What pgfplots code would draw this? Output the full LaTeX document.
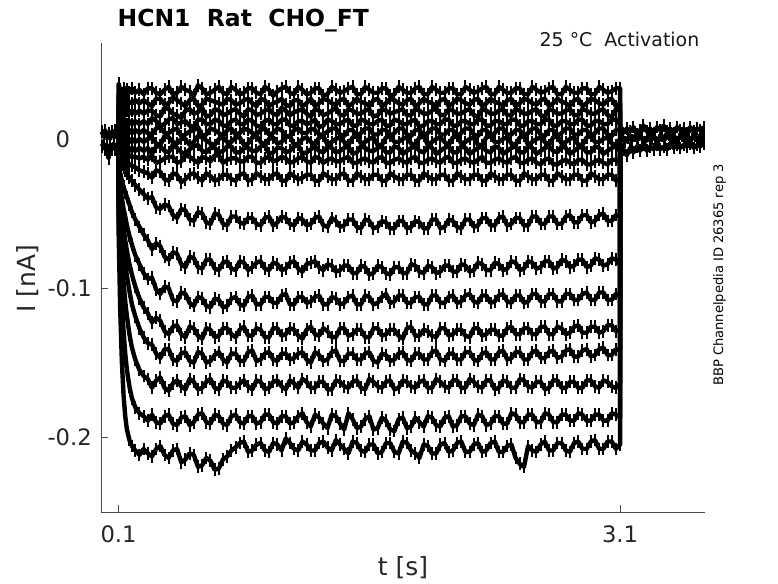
\documentclass[border=0pt]{standalone}
\usepackage{fontspec}
\setmainfont{DejaVu Sans}
\usepackage{pgfplots}
\usepackage{pgfplotstable}
\pgfplotsset{compat=1.18}

\pgfplotstableread{
t a b c d e f g h i j k l m n o p q
0.100 0.000 0.000 0.000 0.000 0.000 0.000 0.000 0.000 0.000 0.000 0.000 0.000 0.000 0.000 0.000 0.000 0.000
0.100 0.037 0.030 0.022 0.014 0.007 0.001 -0.005 -0.006 -0.008 -0.012 -0.018 -0.025 -0.030 -0.035 -0.040 -0.050 -0.060
0.110 0.033 0.026 0.019 0.012 0.005 -0.001 -0.006 -0.007 -0.010 -0.015 -0.023 -0.033 -0.041 -0.050 -0.063 -0.084 -0.115
0.120 0.030 0.024 0.017 0.010 0.006 -0.002 -0.008 -0.008 -0.011 -0.017 -0.028 -0.040 -0.051 -0.063 -0.081 -0.110 -0.150
0.130 0.034 0.026 0.019 0.012 0.004 0.000 -0.006 -0.010 -0.013 -0.019 -0.032 -0.047 -0.060 -0.074 -0.096 -0.129 -0.172
0.140 0.031 0.024 0.017 0.011 0.006 -0.002 -0.008 -0.009 -0.014 -0.021 -0.036 -0.052 -0.068 -0.083 -0.109 -0.144 -0.186
0.150 0.033 0.026 0.019 0.010 0.004 0.000 -0.006 -0.011 -0.015 -0.023 -0.039 -0.058 -0.075 -0.092 -0.119 -0.155 -0.195
0.165 0.031 0.025 0.017 0.012 0.006 -0.002 -0.008 -0.011 -0.017 -0.026 -0.044 -0.065 -0.084 -0.102 -0.131 -0.166 -0.202
0.180 0.034 0.024 0.019 0.010 0.004 0.000 -0.006 -0.012 -0.018 -0.028 -0.049 -0.071 -0.091 -0.111 -0.140 -0.174 -0.206
0.200 0.031 0.026 0.017 0.012 0.006 -0.002 -0.008 -0.012 -0.019 -0.031 -0.054 -0.078 -0.099 -0.119 -0.148 -0.180 -0.209
0.225 0.033 0.024 0.019 0.010 0.004 0.000 -0.006 -0.013 -0.021 -0.034 -0.059 -0.084 -0.107 -0.127 -0.155 -0.184 -0.212
0.250 0.030 0.026 0.017 0.012 0.006 -0.002 -0.008 -0.012 -0.022 -0.037 -0.064 -0.090 -0.113 -0.133 -0.159 -0.186 -0.208
0.275 0.034 0.024 0.019 0.010 0.004 0.000 -0.006 -0.014 -0.023 -0.040 -0.068 -0.094 -0.117 -0.137 -0.161 -0.189 -0.211
0.300 0.034 0.022 0.019 0.014 0.003 0.001 -0.010 -0.011 -0.026 -0.039 -0.074 -0.093 -0.123 -0.138 -0.167 -0.185 -0.213
0.325 0.031 0.027 0.016 0.012 0.007 -0.003 -0.005 -0.016 -0.021 -0.046 -0.070 -0.101 -0.120 -0.144 -0.162 -0.190 -0.208
0.350 0.030 0.027 0.015 0.009 0.008 -0.004 -0.005 -0.015 -0.022 -0.047 -0.072 -0.104 -0.122 -0.147 -0.160 -0.191 -0.206
0.375 0.033 0.023 0.021 0.010 0.004 0.002 -0.008 -0.013 -0.027 -0.044 -0.079 -0.099 -0.129 -0.141 -0.167 -0.186 -0.212
0.400 0.035 0.024 0.020 0.013 0.004 0.001 -0.009 -0.012 -0.028 -0.045 -0.081 -0.100 -0.131 -0.141 -0.169 -0.185 -0.214
0.425 0.030 0.028 0.017 0.014 0.006 -0.002 -0.004 -0.012 -0.023 -0.051 -0.076 -0.108 -0.126 -0.148 -0.164 -0.191 -0.209
0.450 0.031 0.026 0.016 0.010 0.007 -0.003 -0.006 -0.016 -0.024 -0.053 -0.077 -0.109 -0.125 -0.149 -0.162 -0.192 -0.208
0.475 0.035 0.024 0.014 0.011 0.002 0.000 -0.009 -0.015 -0.029 -0.047 -0.084 -0.103 -0.131 -0.144 -0.166 -0.187 -0.217
0.500 0.033 0.022 0.019 0.012 0.003 0.000 -0.010 -0.011 -0.027 -0.048 -0.086 -0.104 -0.133 -0.143 -0.168 -0.186 -0.215
0.525 0.032 0.026 0.020 0.009 0.005 -0.004 -0.007 -0.012 -0.024 -0.054 -0.079 -0.110 -0.126 -0.149 -0.161 -0.192 -0.211
0.550 0.029 0.027 0.017 0.008 0.006 -0.002 -0.005 -0.014 -0.023 -0.055 -0.080 -0.112 -0.127 -0.150 -0.163 -0.190 -0.212
0.575 0.036 0.022 0.018 0.013 0.008 0.002 -0.004 -0.016 -0.026 -0.049 -0.086 -0.106 -0.132 -0.143 -0.168 -0.185 -0.220
0.600 0.034 0.023 0.021 0.013 0.002 0.001 -0.008 -0.012 -0.028 -0.050 -0.087 -0.107 -0.134 -0.144 -0.167 -0.184 -0.219
0.625 0.030 0.027 0.015 0.010 0.003 -0.001 -0.009 -0.013 -0.023 -0.056 -0.081 -0.112 -0.127 -0.150 -0.163 -0.190 -0.214
0.650 0.031 0.026 0.016 0.010 0.007 -0.003 -0.006 -0.015 -0.025 -0.057 -0.081 -0.113 -0.128 -0.149 -0.161 -0.191 -0.216
0.675 0.033 0.025 0.020 0.013 0.006 -0.004 -0.006 -0.011 -0.028 -0.050 -0.087 -0.107 -0.133 -0.145 -0.167 -0.185 -0.222
0.700 0.035 0.024 0.019 0.012 0.004 0.000 -0.009 -0.011 -0.027 -0.051 -0.088 -0.108 -0.132 -0.143 -0.168 -0.186 -0.221
0.725 0.031 0.023 0.016 0.009 0.002 0.001 -0.008 -0.016 -0.024 -0.057 -0.083 -0.113 -0.127 -0.148 -0.162 -0.191 -0.215
0.750 0.030 0.027 0.017 0.009 0.006 -0.002 -0.005 -0.014 -0.024 -0.058 -0.082 -0.112 -0.127 -0.150 -0.163 -0.192 -0.213
0.775 0.035 0.026 0.019 0.012 0.007 -0.002 -0.005 -0.013 -0.027 -0.052 -0.087 -0.107 -0.131 -0.144 -0.167 -0.186 -0.209
0.800 0.033 0.023 0.020 0.013 0.003 0.001 -0.009 -0.013 -0.028 -0.052 -0.088 -0.106 -0.133 -0.144 -0.167 -0.185 -0.207
0.825 0.030 0.024 0.017 0.010 0.004 0.001 -0.009 -0.015 -0.024 -0.056 -0.082 -0.111 -0.128 -0.149 -0.164 -0.190 -0.204
0.850 0.031 0.026 0.015 0.010 0.007 -0.004 -0.006 -0.015 -0.023 -0.057 -0.083 -0.112 -0.126 -0.149 -0.162 -0.191 -0.203
0.875 0.034 0.027 0.020 0.013 0.006 -0.003 -0.006 -0.012 -0.028 -0.053 -0.088 -0.106 -0.132 -0.143 -0.166 -0.186 -0.210
0.900 0.034 0.024 0.019 0.012 0.004 0.001 -0.008 -0.012 -0.027 -0.053 -0.086 -0.105 -0.132 -0.142 -0.168 -0.186 -0.209
0.925 0.031 0.022 0.016 0.009 0.003 0.002 -0.008 -0.016 -0.023 -0.057 -0.083 -0.111 -0.127 -0.149 -0.162 -0.191 -0.205
0.950 0.030 0.027 0.017 0.008 0.006 -0.002 -0.005 -0.016 -0.025 -0.058 -0.082 -0.111 -0.128 -0.148 -0.163 -0.190 -0.204
0.975 0.035 0.026 0.019 0.012 0.007 -0.004 -0.004 -0.013 -0.027 -0.053 -0.087 -0.106 -0.133 -0.144 -0.168 -0.185 -0.209
1.000 0.033 0.022 0.020 0.013 0.003 0.000 -0.010 -0.012 -0.027 -0.052 -0.088 -0.106 -0.133 -0.143 -0.167 -0.185 -0.210
1.025 0.029 0.024 0.017 0.010 0.004 0.001 -0.009 -0.015 -0.024 -0.058 -0.083 -0.110 -0.127 -0.148 -0.163 -0.190 -0.204
1.050 0.032 0.025 0.016 0.010 0.007 -0.003 -0.006 -0.014 -0.023 -0.056 -0.084 -0.110 -0.127 -0.149 -0.162 -0.191 -0.205
1.075 0.034 0.027 0.021 0.013 0.006 -0.002 -0.006 -0.012 -0.028 -0.052 -0.088 -0.105 -0.132 -0.144 -0.166 -0.186 -0.209
1.100 0.035 0.023 0.019 0.013 0.002 0.001 -0.009 -0.013 -0.028 -0.053 -0.087 -0.104 -0.131 -0.144 -0.168 -0.186 -0.201
1.125 0.031 0.022 0.016 0.009 0.002 0.002 -0.008 -0.016 -0.023 -0.057 -0.083 -0.111 -0.127 -0.148 -0.162 -0.191 -0.204
1.150 0.030 0.026 0.018 0.009 0.006 -0.004 -0.005 -0.015 -0.025 -0.058 -0.082 -0.111 -0.128 -0.147 -0.164 -0.190 -0.208
1.175 0.035 0.026 0.019 0.012 0.007 -0.003 -0.004 -0.013 -0.027 -0.053 -0.087 -0.106 -0.132 -0.144 -0.167 -0.186 -0.209
1.200 0.033 0.022 0.020 0.012 0.004 0.000 -0.010 -0.012 -0.026 -0.054 -0.089 -0.106 -0.134 -0.143 -0.161 -0.184 -0.203
1.225 0.030 0.024 0.017 0.010 0.004 0.001 -0.009 -0.015 -0.024 -0.058 -0.084 -0.110 -0.128 -0.148 -0.163 -0.190 -0.205
1.250 0.031 0.027 0.015 0.011 0.007 -0.002 -0.007 -0.016 -0.024 -0.057 -0.083 -0.109 -0.126 -0.150 -0.167 -0.193 -0.209
1.275 0.034 0.022 0.020 0.013 0.006 -0.004 -0.005 -0.012 -0.028 -0.053 -0.082 -0.106 -0.131 -0.143 -0.167 -0.185 -0.209
1.300 0.034 0.024 0.019 0.008 0.003 0.001 -0.008 -0.013 -0.028 -0.052 -0.086 -0.105 -0.132 -0.145 -0.163 -0.187 -0.204
1.325 0.029 0.027 0.016 0.009 0.003 0.002 -0.009 -0.016 -0.023 -0.058 -0.088 -0.111 -0.127 -0.149 -0.163 -0.191 -0.203
1.350 0.030 0.026 0.017 0.013 0.005 -0.004 -0.005 -0.014 -0.025 -0.059 -0.084 -0.111 -0.129 -0.148 -0.168 -0.194 -0.207
1.375 0.035 0.024 0.019 0.012 0.007 -0.002 -0.006 -0.013 -0.027 -0.053 -0.085 -0.106 -0.133 -0.143 -0.168 -0.185 -0.209
1.400 0.033 0.023 0.021 0.010 0.007 0.000 -0.009 -0.015 -0.027 -0.055 -0.089 -0.107 -0.133 -0.142 -0.162 -0.186 -0.202
1.425 0.031 0.026 0.016 0.010 0.003 0.001 -0.008 -0.015 -0.024 -0.059 -0.088 -0.111 -0.127 -0.149 -0.163 -0.191 -0.205
1.450 0.032 0.027 0.016 0.012 0.002 -0.002 -0.006 -0.013 -0.023 -0.058 -0.085 -0.110 -0.127 -0.149 -0.166 -0.195 -0.208
1.475 0.034 0.022 0.020 0.013 0.006 -0.004 -0.005 -0.012 -0.028 -0.054 -0.085 -0.106 -0.132 -0.144 -0.167 -0.184 -0.211
1.500 0.035 0.024 0.019 0.009 0.006 0.001 -0.010 -0.016 -0.028 -0.054 -0.090 -0.105 -0.131 -0.144 -0.163 -0.188 -0.203
1.525 0.030 0.027 0.017 0.009 0.002 0.002 -0.009 -0.016 -0.023 -0.059 -0.090 -0.111 -0.128 -0.148 -0.162 -0.194 -0.204
1.550 0.030 0.025 0.017 0.013 0.004 -0.003 -0.005 -0.014 -0.025 -0.060 -0.085 -0.111 -0.128 -0.148 -0.167 -0.193 -0.209
1.575 0.035 0.024 0.019 0.012 0.007 -0.002 -0.006 -0.013 -0.027 -0.054 -0.086 -0.105 -0.133 -0.144 -0.168 -0.188 -0.210
1.600 0.033 0.022 0.020 0.010 0.007 0.000 -0.008 -0.015 -0.027 -0.055 -0.091 -0.106 -0.133 -0.143 -0.161 -0.186 -0.205
1.625 0.031 0.026 0.015 0.010 0.003 0.001 -0.008 -0.016 -0.024 -0.060 -0.090 -0.111 -0.127 -0.149 -0.163 -0.195 -0.205
1.650 0.031 0.027 0.016 0.012 0.003 -0.004 -0.006 -0.013 -0.024 -0.059 -0.085 -0.110 -0.127 -0.150 -0.166 -0.194 -0.211
1.675 0.034 0.022 0.020 0.013 0.006 -0.004 -0.005 -0.012 -0.028 -0.055 -0.086 -0.106 -0.132 -0.144 -0.167 -0.187 -0.210
1.700 0.034 0.024 0.019 0.009 0.006 0.001 -0.009 -0.016 -0.028 -0.056 -0.090 -0.104 -0.131 -0.145 -0.163 -0.189 -0.204
1.725 0.029 0.027 0.017 0.009 0.002 0.002 -0.009 -0.016 -0.023 -0.060 -0.091 -0.110 -0.128 -0.149 -0.162 -0.195 -0.204
1.750 0.030 0.026 0.018 0.013 0.004 -0.002 -0.005 -0.014 -0.025 -0.060 -0.086 -0.109 -0.128 -0.148 -0.168 -0.196 -0.210
1.775 0.035 0.024 0.019 0.012 0.007 -0.002 -0.006 -0.013 -0.027 -0.055 -0.086 -0.105 -0.132 -0.144 -0.167 -0.188 -0.211
1.800 0.033 0.023 0.020 0.010 0.007 0.000 -0.010 -0.015 -0.027 -0.055 -0.090 -0.105 -0.134 -0.143 -0.162 -0.187 -0.203
1.825 0.031 0.026 0.016 0.010 0.003 0.001 -0.008 -0.016 -0.024 -0.060 -0.090 -0.110 -0.127 -0.148 -0.163 -0.194 -0.204
1.850 0.031 0.027 0.016 0.012 0.002 -0.003 -0.006 -0.013 -0.024 -0.059 -0.084 -0.110 -0.126 -0.149 -0.166 -0.193 -0.209
1.875 0.034 0.022 0.020 0.013 0.006 -0.004 -0.005 -0.012 -0.028 -0.055 -0.085 -0.106 -0.132 -0.144 -0.167 -0.187 -0.211
1.900 0.035 0.024 0.019 0.008 0.006 0.001 -0.008 -0.016 -0.028 -0.056 -0.089 -0.106 -0.132 -0.144 -0.163 -0.190 -0.214
1.925 0.030 0.027 0.017 0.009 0.002 0.002 -0.009 -0.016 -0.023 -0.060 -0.090 -0.111 -0.128 -0.148 -0.162 -0.193 -0.205
1.950 0.030 0.025 0.017 0.012 0.004 -0.004 -0.005 -0.014 -0.025 -0.060 -0.085 -0.111 -0.129 -0.148 -0.167 -0.186 -0.206
1.975 0.035 0.024 0.019 0.012 0.007 -0.002 -0.006 -0.013 -0.027 -0.054 -0.086 -0.105 -0.132 -0.143 -0.167 -0.187 -0.211
2.000 0.033 0.022 0.021 0.010 0.007 0.000 -0.010 -0.015 -0.027 -0.054 -0.090 -0.105 -0.133 -0.142 -0.161 -0.192 -0.211
2.025 0.031 0.026 0.016 0.010 0.003 0.001 -0.008 -0.016 -0.024 -0.060 -0.089 -0.110 -0.127 -0.148 -0.163 -0.193 -0.205
2.050 0.031 0.027 0.016 0.013 0.003 -0.002 -0.006 -0.013 -0.024 -0.059 -0.085 -0.110 -0.127 -0.149 -0.166 -0.187 -0.204
2.075 0.034 0.022 0.020 0.013 0.006 -0.004 -0.005 -0.012 -0.028 -0.054 -0.085 -0.106 -0.132 -0.144 -0.167 -0.186 -0.210
2.100 0.034 0.024 0.019 0.009 0.006 0.001 -0.009 -0.016 -0.028 -0.055 -0.089 -0.105 -0.131 -0.144 -0.162 -0.193 -0.209
2.125 0.030 0.027 0.017 0.009 0.002 0.002 -0.009 -0.016 -0.023 -0.059 -0.089 -0.110 -0.128 -0.148 -0.162 -0.192 -0.204
2.150 0.030 0.026 0.017 0.012 0.004 -0.003 -0.005 -0.014 -0.025 -0.060 -0.084 -0.109 -0.128 -0.148 -0.167 -0.186 -0.203
2.175 0.035 0.024 0.019 0.012 0.007 -0.002 -0.006 -0.013 -0.027 -0.054 -0.085 -0.105 -0.132 -0.143 -0.167 -0.186 -0.210
2.200 0.033 0.023 0.020 0.010 0.007 0.000 -0.010 -0.015 -0.027 -0.054 -0.089 -0.104 -0.133 -0.143 -0.161 -0.191 -0.210
2.225 0.031 0.026 0.016 0.010 0.003 0.001 -0.008 -0.016 -0.024 -0.059 -0.088 -0.109 -0.127 -0.148 -0.163 -0.192 -0.205
2.250 0.032 0.027 0.015 0.013 0.002 -0.004 -0.006 -0.014 -0.024 -0.058 -0.083 -0.110 -0.127 -0.149 -0.166 -0.185 -0.204
2.275 0.034 0.022 0.020 0.013 0.006 -0.004 -0.005 -0.012 -0.028 -0.053 -0.084 -0.105 -0.132 -0.144 -0.167 -0.186 -0.210
2.300 0.035 0.024 0.019 0.009 0.006 0.001 -0.008 -0.016 -0.028 -0.053 -0.088 -0.105 -0.131 -0.143 -0.162 -0.192 -0.209
2.325 0.030 0.027 0.017 0.009 0.002 0.002 -0.009 -0.016 -0.023 -0.058 -0.088 -0.110 -0.128 -0.148 -0.162 -0.191 -0.204
2.350 0.030 0.025 0.017 0.012 0.004 -0.002 -0.005 -0.014 -0.025 -0.058 -0.083 -0.109 -0.128 -0.148 -0.168 -0.186 -0.203
2.375 0.035 0.024 0.019 0.012 0.007 -0.002 -0.006 -0.013 -0.027 -0.053 -0.084 -0.105 -0.132 -0.143 -0.167 -0.186 -0.210
2.400 0.033 0.022 0.020 0.010 0.007 0.000 -0.010 -0.015 -0.027 -0.052 -0.088 -0.104 -0.132 -0.142 -0.162 -0.191 -0.210
2.425 0.031 0.026 0.016 0.010 0.003 0.001 -0.008 -0.016 -0.024 -0.058 -0.087 -0.109 -0.127 -0.148 -0.163 -0.191 -0.206
2.450 0.031 0.027 0.016 0.013 0.003 -0.003 -0.006 -0.013 -0.024 -0.057 -0.082 -0.110 -0.126 -0.147 -0.167 -0.184 -0.205
2.475 0.034 0.022 0.020 0.013 0.006 -0.004 -0.005 -0.012 -0.028 -0.053 -0.083 -0.105 -0.131 -0.143 -0.167 -0.185 -0.214
2.500 0.034 0.024 0.019 0.009 0.006 0.001 -0.009 -0.016 -0.028 -0.053 -0.088 -0.105 -0.131 -0.143 -0.161 -0.190 -0.218
2.525 0.030 0.027 0.017 0.009 0.002 0.002 -0.009 -0.016 -0.023 -0.058 -0.087 -0.110 -0.127 -0.148 -0.162 -0.190 -0.220
2.550 0.030 0.026 0.017 0.012 0.004 -0.004 -0.005 -0.014 -0.025 -0.058 -0.082 -0.109 -0.127 -0.148 -0.166 -0.185 -0.206
2.575 0.035 0.024 0.019 0.012 0.007 -0.002 -0.006 -0.013 -0.027 -0.052 -0.083 -0.104 -0.131 -0.143 -0.167 -0.185 -0.209
2.600 0.033 0.023 0.020 0.010 0.007 0.000 -0.010 -0.016 -0.027 -0.052 -0.087 -0.104 -0.131 -0.142 -0.163 -0.190 -0.210
2.625 0.031 0.026 0.016 0.010 0.003 0.001 -0.008 -0.017 -0.024 -0.057 -0.086 -0.109 -0.126 -0.147 -0.163 -0.190 -0.205
2.650 0.032 0.027 0.015 0.013 0.002 -0.002 -0.006 -0.014 -0.024 -0.057 -0.082 -0.109 -0.126 -0.147 -0.168 -0.184 -0.203
2.675 0.034 0.022 0.020 0.013 0.006 -0.004 -0.005 -0.013 -0.028 -0.052 -0.082 -0.104 -0.131 -0.143 -0.167 -0.185 -0.209
2.700 0.035 0.024 0.019 0.009 0.006 0.001 -0.008 -0.017 -0.028 -0.052 -0.087 -0.104 -0.131 -0.142 -0.162 -0.190 -0.209
2.725 0.030 0.027 0.017 0.009 0.002 0.002 -0.009 -0.017 -0.023 -0.057 -0.086 -0.109 -0.126 -0.147 -0.162 -0.190 -0.204
2.750 0.030 0.025 0.017 0.012 0.004 -0.003 -0.005 -0.015 -0.025 -0.057 -0.081 -0.109 -0.127 -0.146 -0.167 -0.185 -0.204
2.775 0.035 0.024 0.019 0.012 0.007 -0.002 -0.006 -0.014 -0.027 -0.052 -0.082 -0.104 -0.131 -0.142 -0.167 -0.185 -0.209
2.800 0.033 0.022 0.020 0.010 0.007 0.000 -0.010 -0.016 -0.027 -0.051 -0.086 -0.104 -0.130 -0.141 -0.163 -0.189 -0.210
2.825 0.031 0.026 0.016 0.010 0.003 0.001 -0.008 -0.017 -0.024 -0.056 -0.085 -0.108 -0.126 -0.146 -0.163 -0.189 -0.204
2.850 0.031 0.027 0.016 0.013 0.003 -0.004 -0.006 -0.014 -0.024 -0.056 -0.081 -0.108 -0.125 -0.146 -0.167 -0.184 -0.203
2.875 0.034 0.022 0.020 0.013 0.006 -0.004 -0.005 -0.014 -0.028 -0.051 -0.081 -0.104 -0.130 -0.142 -0.167 -0.185 -0.208
2.900 0.034 0.024 0.019 0.009 0.006 0.001 -0.009 -0.017 -0.028 -0.051 -0.086 -0.103 -0.130 -0.141 -0.162 -0.189 -0.208
2.925 0.030 0.027 0.017 0.009 0.002 0.002 -0.009 -0.017 -0.023 -0.056 -0.085 -0.108 -0.126 -0.146 -0.162 -0.189 -0.203
2.950 0.030 0.026 0.017 0.012 0.004 -0.002 -0.005 -0.015 -0.025 -0.055 -0.080 -0.108 -0.126 -0.145 -0.166 -0.185 -0.202
2.975 0.035 0.024 0.019 0.012 0.007 -0.002 -0.006 -0.014 -0.027 -0.051 -0.081 -0.103 -0.130 -0.141 -0.167 -0.185 -0.208
3.000 0.033 0.023 0.020 0.010 0.007 0.000 -0.010 -0.016 -0.027 -0.050 -0.085 -0.103 -0.129 -0.140 -0.162 -0.189 -0.208
3.025 0.031 0.026 0.016 0.010 0.003 0.001 -0.008 -0.017 -0.024 -0.055 -0.084 -0.108 -0.125 -0.145 -0.163 -0.189 -0.203
3.050 0.032 0.027 0.015 0.013 0.002 -0.003 -0.006 -0.014 -0.024 -0.055 -0.080 -0.108 -0.125 -0.145 -0.166 -0.184 -0.203
3.075 0.034 0.022 0.020 0.013 0.006 -0.004 -0.005 -0.014 -0.028 -0.051 -0.081 -0.104 -0.129 -0.141 -0.167 -0.185 -0.208
3.100 0.034 0.024 0.019 0.010 0.006 0.000 -0.008 -0.016 -0.027 -0.052 -0.084 -0.106 -0.128 -0.142 -0.164 -0.187 -0.205
3.100 0.004 0.002 0.006 -0.002 0.003 -0.004 0.001 -0.006 -0.003 -0.008 -0.005 -0.010 -0.007 -0.009 -0.011 -0.012 -0.013
}\traces

\begin{document}
\begin{tikzpicture}
\begin{axis}[
  scale only axis, width=453pt, height=351.75pt,
  xmin=-0.005, xmax=3.608, ymin=-0.2503, ymax=0.0644,
  axis x line*=bottom, axis y line*=left,
  axis line style={-, black!70, line width=0.6pt},
  xtick={0.1,3.1}, xticklabels={0.1,3.1},
  ytick={-0.2,-0.1,0}, yticklabels={-0.2,-0.1,0\phantom{.1}},
  tick align=inside, major tick length=5.25pt,
  tick style={black!70, line width=0.6pt},
  xticklabel style={anchor=base, yshift=-22.5pt, font=\fontsize{17}{20}\selectfont, text=black!85},
  yticklabel style={anchor=east, inner sep=0pt, xshift=-6.75pt, font=\fontsize{17}{20}\selectfont, text=black!85},
  clip=false,
  every axis plot post/.append style={black, solid, line width=3.3pt, line join=round, mark=|, mark size=4.8pt, mark options={black, solid, line width=1.5pt}},
]
\addplot table[x=t,y=a]{\traces};
\addplot table[x=t,y=b]{\traces};
\addplot table[x=t,y=c]{\traces};
\addplot table[x=t,y=d]{\traces};
\addplot table[x=t,y=e]{\traces};
\addplot table[x=t,y=f]{\traces};
\addplot table[x=t,y=g]{\traces};
\addplot table[x=t,y=h]{\traces};
\addplot table[x=t,y=i]{\traces};
\addplot table[x=t,y=j]{\traces};
\addplot table[x=t,y=k]{\traces};
\addplot table[x=t,y=l]{\traces};
\addplot table[x=t,y=m]{\traces};
\addplot table[x=t,y=n]{\traces};
\addplot table[x=t,y=o]{\traces};
\addplot table[x=t,y=p]{\traces};
\addplot table[x=t,y=q]{\traces};
% baseline before the pulse
\addplot coordinates {(0,0.005) (0.01,0.002) (0.02,0.006) (0.03,0.001) (0.04,0.004) (0.05,0.000) (0.06,0.005) (0.07,0.002) (0.08,0.006) (0.09,0.001) (0.1,0.004)};
\addplot coordinates {(0,-0.005) (0.01,-0.003) (0.02,-0.007) (0.03,-0.004) (0.035,-0.009) (0.04,-0.013) (0.045,-0.008) (0.05,-0.004) (0.06,-0.007) (0.07,-0.003) (0.08,-0.007) (0.09,-0.004) (0.1,-0.005)};
% tail after the pulse
\addplot coordinates {(3.10,0.008) (3.12,0.004) (3.14,0.007) (3.16,0.005) (3.18,0.008) (3.20,0.003) (3.22,0.006) (3.24,0.009) (3.26,0.005) (3.28,0.007) (3.30,0.004) (3.32,0.008) (3.34,0.006) (3.36,0.009) (3.38,0.005) (3.40,0.007) (3.42,0.004) (3.44,0.008) (3.46,0.006) (3.48,0.007) (3.50,0.004) (3.52,0.008) (3.54,0.005) (3.56,0.007) (3.58,0.006) (3.60,0.008)};
\addplot coordinates {(3.10,0.000) (3.11,0.002) (3.13,-0.002) (3.15,0.001) (3.17,-0.001) (3.19,0.002) (3.21,0.000) (3.23,0.001) (3.25,-0.002) (3.27,0.002) (3.29,0.000) (3.31,0.001) (3.33,-0.001) (3.35,0.002) (3.37,0.000) (3.39,0.003) (3.41,-0.001) (3.43,0.001) (3.45,0.000) (3.47,0.002) (3.49,-0.001) (3.51,0.001) (3.53,0.000) (3.55,0.002) (3.57,-0.001) (3.59,0.001) (3.60,0.001)};
\addplot coordinates {(3.10,-0.010) (3.12,-0.007) (3.14,-0.011) (3.16,-0.006) (3.18,-0.009) (3.20,-0.005) (3.22,-0.008) (3.24,-0.004) (3.26,-0.008) (3.28,-0.005) (3.30,-0.007) (3.32,-0.004) (3.34,-0.007) (3.36,-0.005) (3.38,-0.007) (3.40,-0.003) (3.42,-0.006) (3.44,-0.004) (3.46,-0.006) (3.48,-0.004) (3.50,-0.005) (3.52,-0.003) (3.54,-0.006) (3.56,-0.004) (3.58,-0.005) (3.60,-0.003)};
\coordinate (sw) at (rel axis cs:0,0);
\coordinate (ne) at (rel axis cs:1,1);
\end{axis}
\node[anchor=base west, font=\bfseries\fontsize{17.6}{20}\selectfont] at ([shift={(9pt,363.75pt)}]sw) {HCN1~~Rat~~CHO\_FT};
\node[anchor=base east, font=\fontsize{14.2}{17}\selectfont, text=black!90] at ([shift={(452.25pt,348.75pt)}]sw) {25 °C~~Activation};
\node[rotate=90, anchor=base, font=\fontsize{9.8}{12}\selectfont] at ([shift={(466.5pt,177.75pt)}]sw) {BBP Channelpedia ID 26365 rep 3};
\node[rotate=90, anchor=base, font=\fontsize{18.7}{22}\selectfont, text=black!85] at ([shift={(-48.75pt,175.1pt)}]sw) {I [nA]};
\node[anchor=base, font=\fontsize{18.7}{22}\selectfont, text=black!85] at ([shift={(226.5pt,-47.25pt)}]sw) {t [s]};
\pgfresetboundingbox
\path[use as bounding box] ([shift={(-75.75pt,-53.25pt)}]sw) rectangle ([shift={(54.75pt,32.25pt)}]ne);
\end{tikzpicture}
\end{document}
